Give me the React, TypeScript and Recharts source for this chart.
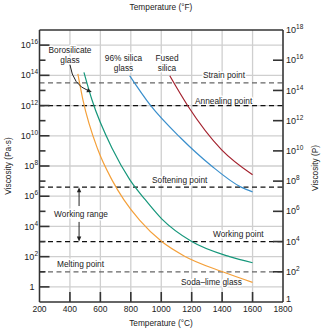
import React from "react";
import { LineChart, Line, XAxis, YAxis, CartesianGrid, ReferenceLine, Customized } from "recharts";

// t = temperature (°C), v = log10 of viscosity in Pa·s
const sodaLime = [
  { t: 452, v: 14.1 },
  { t: 485, v: 12.4 },
  { t: 584, v: 9.07 },
  { t: 675, v: 7.1 },
  { t: 755, v: 5.76 },
  { t: 859, v: 4.4 },
  { t: 1003, v: 3.0 },
  { t: 1150, v: 2.05 },
  { t: 1403, v: 1.0 },
  { t: 1600, v: 0.3 },
];

const borosilicate = [
  { t: 492, v: 14.2 },
  { t: 544, v: 12.4 },
  { t: 682, v: 9.07 },
  { t: 793, v: 7.1 },
  { t: 892, v: 5.8 },
  { t: 1003, v: 4.5 },
  { t: 1200, v: 3.0 },
  { t: 1449, v: 2.0 },
  { t: 1600, v: 1.6 },
];

const silica96 = [
  { t: 793, v: 13.97 },
  { t: 931, v: 11.99 },
  { t: 1128, v: 9.85 },
  { t: 1331, v: 8.0 },
  { t: 1521, v: 6.62 },
  { t: 1600, v: 6.29 },
];

const fusedSilica = [
  { t: 1056, v: 13.97 },
  { t: 1174, v: 11.99 },
  { t: 1397, v: 9.07 },
  { t: 1600, v: 7.42 },
];

// fixed points, log10 Pa·s
const strainPoint = 13.5;
const annealingPoint = 12;
const softeningPoint = 6.6;
const workingPoint = 3;
const meltingPoint = 1;

const celsiusTicks = [200, 400, 600, 800, 1000, 1200, 1400, 1600, 1800];
const fahrenheitTicks = [400, 800, 1200, 1600, 2000, 2400, 2800, 3200];
const pasTicks = [0, 1, 2, 3, 4, 5, 6, 7, 8, 9, 10, 11, 12, 13, 14, 15, 16];
const gridPowers = [0, 2, 4, 6, 8, 10, 12, 14, 16];
const poiseTicks = [0, 2, 4, 6, 8, 10, 12, 14, 16, 18];

const FONT = "'Liberation Sans', Arial, sans-serif";
const INK = "#222";
const AXIS = "#333";

const Pow = ({ e, x, y, anchor }: { e: number; x: number; y: number; anchor: string }) => (
  <text x={x} y={y} dy="0.35em" textAnchor={anchor} fontSize={9} fontFamily={FONT} fill={INK}>
    {e === 0 ? "1" : (
      <>
        10<tspan dy={-4} fontSize={6.5}>{e}</tspan>
      </>
    )}
  </text>
);

const LeftTick = (props: any) => {
  const { x, y, payload } = props;
  const v = payload.value;
  const major = v % 2 === 0;
  return (
    <g>
      <line x1={x} y1={y} x2={x + (major ? 10 : 6)} y2={y} stroke={AXIS} strokeWidth={1.6} />
      {major && <Pow e={v} x={v === 0 ? x - 5 : x - 1.5} y={y} anchor="end" />}
    </g>
  );
};

const RightTick = (props: any) => {
  const { x, y, payload } = props;
  const v = payload.value;
  return (
    <g>
      {v > 0 && v < 18 && <line x1={x} y1={y} x2={x - 10} y2={y} stroke={AXIS} strokeWidth={1.6} />}
      <Pow e={v} x={x + 3} y={v === 0 ? y - 3 : y} anchor="start" />
    </g>
  );
};

const BottomTick = (props: any) => {
  const { x, y, payload } = props;
  const v = payload.value;
  return (
    <g>
      {v > 200 && v < 1800 && <line x1={x} y1={y} x2={x} y2={y - 10} stroke={AXIS} strokeWidth={1.6} />}
      <text x={x} y={y + 9.5} textAnchor="middle" fontSize={8.5} fontFamily={FONT} fill={INK}>{v}</text>
    </g>
  );
};

const TopTick = (props: any) => {
  const { x, y, payload } = props;
  const v = payload.value;
  return (
    <g>
      <line x1={x} y1={y} x2={x} y2={y + 10} stroke={AXIS} strokeWidth={1.6} />
      <text x={x} y={y - 4} textAnchor="middle" fontSize={8.5} fontFamily={FONT} fill={INK}>{v}</text>
    </g>
  );
};

const head = (x: number, y: number, ang: number) => {
  const L = 5, W = 2.2;
  const bx = x - L * Math.cos(ang), by = y - L * Math.sin(ang);
  const px = -Math.sin(ang) * W, py = Math.cos(ang) * W;
  return <polygon points={`${x},${y} ${bx + px},${by + py} ${bx - px},${by - py}`} fill={INK} />;
};

const StraightArrow = (p: any) => {
  const { x1, y1, x2, y2 } = p;
  const ang = Math.atan2(y2 - y1, x2 - x1);
  return (
    <g>
      <line x1={x1} y1={y1} x2={x2 - 4 * Math.cos(ang)} y2={y2 - 4 * Math.sin(ang)} stroke={INK} strokeWidth={1} />
      {head(x2, y2, ang)}
    </g>
  );
};

const CurvedArrow = (p: any) => {
  const { x1, y1, x2, y2 } = p;
  const cx = x1 + 0.15 * (x2 - x1), cy = y1 + 0.75 * (y2 - y1);
  const ang = Math.atan2(y2 - cy, x2 - cx);
  return (
    <g>
      <path d={`M${x1},${y1} Q${cx},${cy} ${x2 - 4 * Math.cos(ang)},${y2 - 4 * Math.sin(ang)}`} fill="none" stroke={INK} strokeWidth={1} />
      {head(x2, y2, ang)}
    </g>
  );
};

const Note = ({ x, y, children, anchor = "middle" }: any) => (
  <text x={x} y={y} textAnchor={anchor} fontSize={8.3} fontFamily={FONT} fill={INK}
    stroke="#fff" strokeWidth={3} strokeLinejoin="round" paintOrder="stroke">{children}</text>
);

const Notes = () => (
  <g>
    <Note x={70} y={53}>Borosilicate</Note>
    <Note x={70} y={63}>glass</Note>
    <Note x={123.5} y={61}>96% silica</Note>
    <Note x={123.5} y={71}>glass</Note>
    <Note x={167} y={61}>Fused</Note>
    <Note x={167} y={71}>silica</Note>
    <Note x={203} y={78} anchor="start">Strain point</Note>
    <Note x={195} y={104} anchor="start">Annealing point</Note>
    <Note x={152} y={183} anchor="start">Softening point</Note>
    <Note x={81} y={217}>Working range</Note>
    <Note x={213} y={237} anchor="start">Working point</Note>
    <Note x={57} y={267} anchor="start">Melting point</Note>
    <Note x={181} y={285} anchor="start">Soda–lime glass</Note>
    <text x={161} y={10} textAnchor="middle" fontSize={8.3} fontFamily={FONT} fill={INK}>Temperature (°F)</text>
    <text x={161} y={326} textAnchor="middle" fontSize={8.3} fontFamily={FONT} fill={INK}>Temperature (°C)</text>
    <text x={11} y={166} transform="rotate(-90 11 166)" textAnchor="middle" fontSize={8.3} fontFamily={FONT} fill={INK}>Viscosity (Pa·s)</text>
    <text x={318} y={168} transform="rotate(-90 318 168)" textAnchor="middle" fontSize={8.3} fontFamily={FONT} fill={INK}>Viscosity (P)</text>
  </g>
);

const dashed = (v: number, color: string) => (
  <ReferenceLine xAxisId="c" yAxisId="left" y={v} stroke={color} strokeWidth={1.3} strokeDasharray="5 3.5" />
);

export default function App() {
  const axisLine = { stroke: AXIS, strokeWidth: 1.5 };
  return (
    <div style={{ position: "absolute", left: 0, top: 0, background: "#fff" }}>
      <LineChart width={325} height={331} margin={{ top: 0, right: 1, bottom: 0, left: 0 }}>
        <CartesianGrid xAxisId="c" yAxisId="left" stroke="#cfcfcf" strokeWidth={1.3} horizontalValues={gridPowers} />
        <XAxis xAxisId="c" dataKey="t" type="number" domain={[200, 1800]} ticks={celsiusTicks} interval={0}
          height={29} allowDataOverflow tickSize={0} tickMargin={0} tickLine={false} axisLine={axisLine} tick={BottomTick} />
        <XAxis xAxisId="f" orientation="top" type="number" domain={[392, 3272]} ticks={fahrenheitTicks} interval={0}
          height={30} allowDataOverflow tickSize={0} tickMargin={0} tickLine={false} axisLine={axisLine} tick={TopTick} />
        <YAxis yAxisId="left" type="number" domain={[-1, 17]} ticks={pasTicks} interval={0} width={39.5}
          allowDataOverflow tickSize={0} tickMargin={0} tickLine={false} axisLine={axisLine} tick={LeftTick} />
        <YAxis yAxisId="right" orientation="right" type="number" domain={[0, 18]} ticks={poiseTicks} interval={0} width={41}
          allowDataOverflow tickSize={0} tickMargin={0} tickLine={false} axisLine={axisLine} tick={RightTick} />
        {dashed(strainPoint, "#666")}
        {dashed(annealingPoint, "#111")}
        {dashed(softeningPoint, "#111")}
        {dashed(workingPoint, "#111")}
        {dashed(meltingPoint, "#666")}
        <Line xAxisId="c" yAxisId="left" data={sodaLime} dataKey="v" type="monotone" stroke="#f4a03a" strokeWidth={1.2} dot={false} isAnimationActive={false} />
        <Line xAxisId="c" yAxisId="left" data={borosilicate} dataKey="v" type="monotone" stroke="#16977b" strokeWidth={1.2} dot={false} isAnimationActive={false} />
        <Line xAxisId="c" yAxisId="left" data={silica96} dataKey="v" type="monotone" stroke="#3a8fcc" strokeWidth={1.2} dot={false} isAnimationActive={false} />
        <Line xAxisId="c" yAxisId="left" data={fusedSilica} dataKey="v" type="monotone" stroke="#a3212d" strokeWidth={1.2} dot={false} isAnimationActive={false} />
        <Customized component={<Notes />} />
        <ReferenceLine xAxisId="c" yAxisId="left" segment={[{ x: 400, y: 14.7 }, { x: 544, y: 12.9 }]} shape={CurvedArrow} />
        <ReferenceLine xAxisId="c" yAxisId="left" segment={[{ x: 460, y: 5.35 }, { x: 460, y: softeningPoint }]} shape={StraightArrow} />
        <ReferenceLine xAxisId="c" yAxisId="left" segment={[{ x: 460, y: 4.3 }, { x: 460, y: workingPoint }]} shape={StraightArrow} />
      </LineChart>
    </div>
  );
}
